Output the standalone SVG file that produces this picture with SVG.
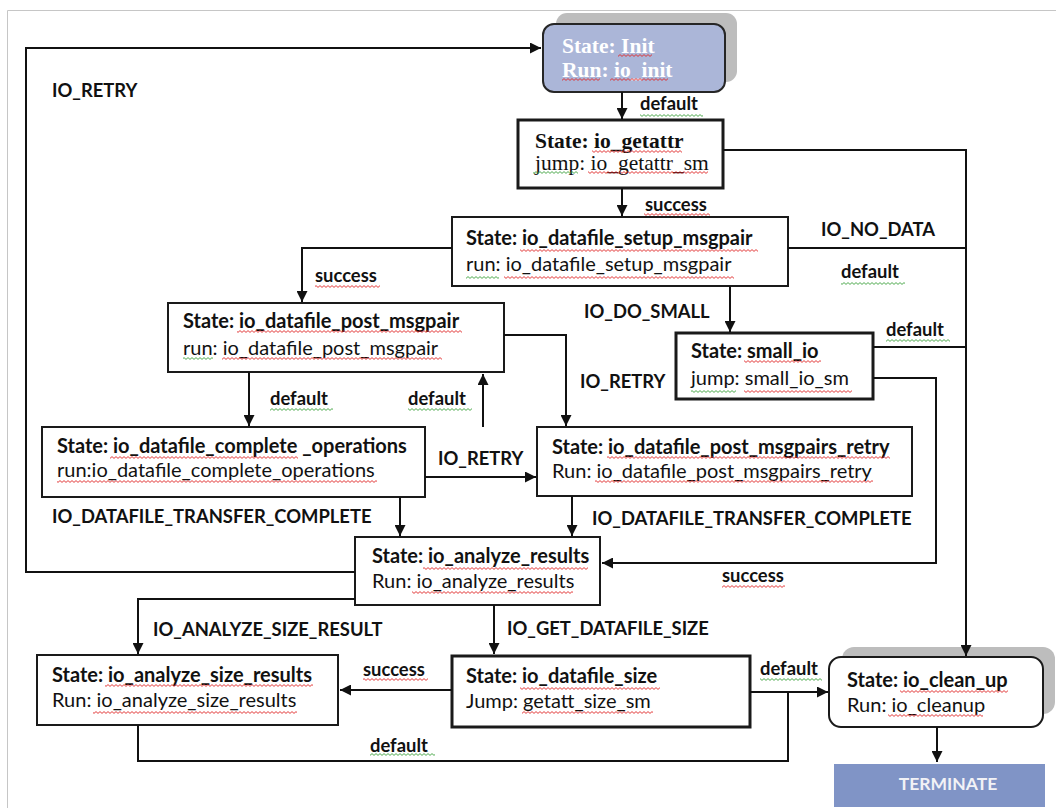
<svg xmlns="http://www.w3.org/2000/svg" width="1056" height="808" viewBox="0 0 1056 808">
  <defs>
    <marker id="ah" viewBox="0 0 10 10" refX="10" refY="5" markerWidth="11" markerHeight="11" markerUnits="userSpaceOnUse" orient="auto">
      <path d="M0,0 L10,5 L0,10 z" fill="#111"/>
    </marker>
    <pattern id="wr" width="4" height="3" patternUnits="userSpaceOnUse">
      <path d="M0,0.6 L2,2.4 L4,0.6" fill="none" stroke="#e02828" stroke-width="0.9"/>
    </pattern>
    <pattern id="wg" width="4" height="3" patternUnits="userSpaceOnUse">
      <path d="M0,0.6 L2,2.4 L4,0.6" fill="none" stroke="#3da23d" stroke-width="0.9"/>
    </pattern>
  </defs>
  <style>
    .box { fill: #fff; stroke: #1a1a1a; stroke-width: 2; }
    .thick { stroke-width: 3; }
    .serif { font-family: "Liberation Serif", "Times New Roman", serif; font-size: 21.5px; fill: #111; }
    .sans { font-family: Lato, "Liberation Sans", sans-serif; font-size: 20px; fill: #111; }
    .b { font-weight: bold; }
    .lbl { font-family: Lato, "Liberation Sans", sans-serif; font-size: 18.4px; font-weight: bold; fill: #111; }
    .wire { fill: none; stroke: #111; stroke-width: 2; }
    .arr { marker-end: url(#ah); }
    .sr { fill: url(#wr); }
    .sg { fill: url(#wg); }
  </style>

  <rect width="1056" height="808" fill="#fff"/>
  <path d="M7.5,808 V10.5 H1056" fill="none" stroke="#c6c6c6" stroke-width="1"/>

  <g id="init">
    <rect x="556" y="13" width="181" height="69" rx="11" fill="#bdbdbd"/>
    <rect x="543" y="24" width="182" height="68" rx="11" fill="#abb6d8" stroke="#262626" stroke-width="2"/>
    <text class="serif b" x="562" y="53" style="fill:#fff">State: Init</text>
    <text class="serif b" x="562" y="77" style="fill:#fff">Run: io_init</text>
    <rect class="sr" x="618" y="54" width="34" height="3"/>
    <rect class="sr" x="562" y="78" width="38" height="3"/>
    <rect class="sr" x="610" y="78" width="58" height="3"/>
  </g>

  <g id="io_getattr">
    <rect class="box thick" x="518" y="120" width="205" height="68"/>
    <text class="serif b" x="535" y="148">State: io_getattr</text>
    <text class="serif" x="535" y="170">jump: io_getattr_sm</text>
    <rect class="sr" x="592" y="150" width="90" height="3"/>
    <rect class="sg" x="533" y="171" width="45" height="3"/>
    <rect class="sr" x="588" y="171" width="120" height="3"/>
  </g>

  <g id="io_datafile_setup_msgpair">
    <rect class="box" x="452" y="217" width="336" height="69"/>
    <text class="sans b" x="466" y="245">State: io_datafile_setup_msgpair</text>
    <text class="sans" x="466" y="271">run: io_datafile_setup_msgpair</text>
    <rect class="sr" x="520" y="249" width="238" height="3"/>
    <rect class="sg" x="466" y="276" width="33" height="3"/>
    <rect class="sr" x="504" y="276" width="230" height="3"/>
  </g>

  <g id="small_io">
    <rect class="box thick" x="676" y="333" width="197" height="66"/>
    <text class="sans b" x="691" y="358">State: small_io</text>
    <text class="sans" x="691" y="385">jump: small_io_sm</text>
    <rect class="sr" x="744" y="360" width="77" height="3"/>
    <rect class="sg" x="691" y="390" width="45" height="3"/>
    <rect class="sr" x="744" y="390" width="108" height="3"/>
  </g>

  <g id="io_datafile_post_msgpair">
    <rect class="box" x="168" y="303" width="336" height="69"/>
    <text class="sans b" x="183" y="328">State: io_datafile_post_msgpair</text>
    <text class="sans" x="183" y="355">run: io_datafile_post_msgpair</text>
    <rect class="sr" x="237" y="330" width="225" height="3"/>
    <rect class="sg" x="183" y="357" width="30" height="3"/>
    <rect class="sr" x="222" y="357" width="220" height="3"/>
  </g>

  <g id="io_datafile_complete_operations">
    <rect class="box" x="42" y="427" width="383" height="70"/>
    <text class="sans b" x="57" y="453">State: io_datafile_complete _operations</text>
    <text class="sans" x="57" y="477">run:io_datafile_complete_operations</text>
    <rect class="sr" x="110" y="456" width="188" height="3"/>
    <rect class="sr" x="57" y="480" width="320" height="3"/>
  </g>

  <g id="io_datafile_post_msgpairs_retry">
    <rect class="box" x="537" y="427" width="375" height="69"/>
    <text class="sans b" x="552" y="454">State: io_datafile_post_msgpairs_retry</text>
    <text class="sans" x="552" y="478">Run: io_datafile_post_msgpairs_retry</text>
    <rect class="sr" x="607" y="456" width="283" height="3"/>
    <rect class="sr" x="595" y="480" width="278" height="3"/>
  </g>

  <g id="io_analyze_results">
    <rect class="box" x="355" y="537" width="245" height="68"/>
    <text class="sans b" x="372" y="563">State: io_analyze_results</text>
    <text class="sans" x="372" y="588">Run: io_analyze_results</text>
    <rect class="sr" x="423" y="567" width="165" height="3"/>
    <rect class="sr" x="412" y="591" width="161" height="3"/>
  </g>

  <g id="io_analyze_size_results">
    <rect class="box" x="37" y="655" width="301" height="70"/>
    <text class="sans b" x="52" y="682">State: io_analyze_size_results</text>
    <text class="sans" x="52" y="707">Run: io_analyze_size_results</text>
    <rect class="sr" x="105" y="684" width="208" height="3"/>
    <rect class="sr" x="93" y="711" width="204" height="3"/>
  </g>

  <g id="io_datafile_size">
    <rect class="box thick" x="452" y="656" width="298" height="71"/>
    <text class="sans b" x="466" y="683">State: io_datafile_size</text>
    <text class="sans" x="466" y="708">Jump: getatt_size_sm</text>
    <rect class="sr" x="520" y="687" width="140" height="3"/>
    <rect class="sr" x="522" y="711" width="131" height="3"/>
  </g>

  <g id="io_clean_up">
    <rect x="842" y="647" width="213" height="67" rx="12" fill="#bdbdbd"/>
    <rect class="box" x="829" y="657" width="214" height="70" rx="12"/>
    <text class="sans b" x="847" y="687">State: io_clean_up</text>
    <text class="sans" x="847" y="712">Run: io_cleanup</text>
    <rect class="sr" x="900" y="690" width="108" height="3"/>
    <rect class="sr" x="888" y="714" width="95" height="3"/>
  </g>

  <g id="terminate">
    <rect x="834" y="764" width="211" height="43" fill="#8094c6"/>
    <text x="948" y="790" text-anchor="middle" font-family="Lato, 'Liberation Sans', sans-serif" font-size="17.5" font-weight="bold" fill="#f2f2f6">TERMINATE</text>
  </g>

  <!-- transitions -->
  <g id="connectors">
    <path class="wire arr" d="M622,92 V119"/>
    <path class="wire arr" d="M723,150 H966 V656"/>
    <path class="wire arr" d="M622,188 V216"/>
    <path class="wire" d="M788,248 H966"/>
    <path class="wire arr" d="M452,248 H302 V302"/>
    <path class="wire arr" d="M730,286 V332"/>
    <path class="wire" d="M873,347 H966"/>
    <path class="wire arr" d="M873,378 H936 V563 H602"/>
    <path class="wire arr" d="M504,335 H566 V426"/>
    <path class="wire arr" d="M249,372 V426"/>
    <path class="wire arr" d="M483,427 V374"/>
    <path class="wire arr" d="M425,477 H536"/>
    <path class="wire arr" d="M400,497 V536"/>
    <path class="wire arr" d="M572,496 V536"/>
    <path class="wire arr" d="M355,572 H26 V48 H541"/>
    <path class="wire arr" d="M355,599 H138 V654"/>
    <path class="wire arr" d="M494,605 V654"/>
    <path class="wire arr" d="M452,690 H340"/>
    <path class="wire arr" d="M750,692 H828"/>
    <path class="wire" d="M138,725 V761 H788 V692"/>
    <path class="wire arr" d="M937,727 V762"/>
  </g>

  <!-- transition labels -->
  <g id="labels">
    <text class="lbl" x="640" y="110">default</text>
    <rect class="sg" x="640" y="114" width="63" height="3"/>
    <text class="lbl" x="645" y="211">success</text>
    <rect class="sr" x="644" y="213" width="66" height="3"/>
    <text class="lbl" x="821" y="236">IO_NO_DATA</text>
    <text class="lbl" x="841" y="278">default</text>
    <rect class="sg" x="841" y="282" width="64" height="3"/>
    <text class="lbl" x="315" y="282">success</text>
    <rect class="sr" x="315" y="285" width="65" height="3"/>
    <text class="lbl" x="584" y="318">IO_DO_SMALL</text>
    <text class="lbl" x="886" y="336">default</text>
    <rect class="sg" x="886" y="339" width="64" height="3"/>
    <text class="lbl" x="580" y="388">IO_RETRY</text>
    <text class="lbl" x="270" y="405">default</text>
    <rect class="sg" x="270" y="408" width="63" height="3"/>
    <text class="lbl" x="408" y="405">default</text>
    <rect class="sg" x="408" y="408" width="64" height="3"/>
    <text class="lbl" x="438" y="465">IO_RETRY</text>
    <text class="lbl" x="52" y="523">IO_DATAFILE_TRANSFER_COMPLETE</text>
    <text class="lbl" x="592" y="525">IO_DATAFILE_TRANSFER_COMPLETE</text>
    <text class="lbl" x="722" y="582">success</text>
    <rect class="sr" x="722" y="585" width="63" height="3"/>
    <text class="lbl" x="52" y="97">IO_RETRY</text>
    <text class="lbl" x="153" y="636">IO_ANALYZE_SIZE_RESULT</text>
    <text class="lbl" x="507" y="635">IO_GET_DATAFILE_SIZE</text>
    <text class="lbl" x="363" y="676">success</text>
    <rect class="sr" x="363" y="678" width="65" height="3"/>
    <text class="lbl" x="760" y="675">default</text>
    <rect class="sg" x="760" y="678" width="62" height="3"/>
    <text class="lbl" x="370" y="752">default</text>
    <rect class="sg" x="370" y="753" width="65" height="3"/>
  </g>
</svg>
